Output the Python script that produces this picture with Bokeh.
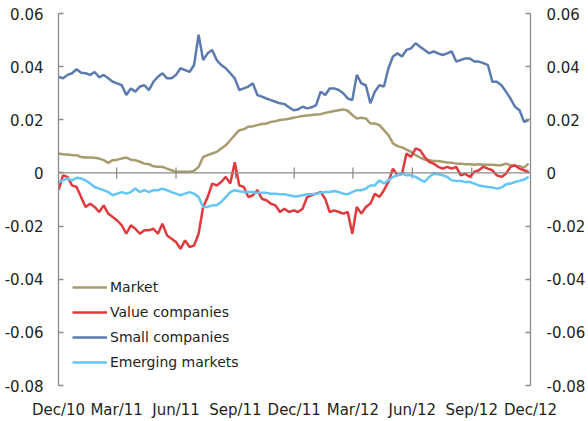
import numpy as np
import pandas as pd
from bokeh.plotting import figure
from bokeh.models import (LinearAxis, FixedTicker, Span, Legend, LegendItem,
                          DatetimeTickFormatter, Range1d)
from bokeh.embed import file_html
from bokeh.resources import INLINE

start_date = "2010-12-01"
n_weeks = 105

market = [0.0073, 0.0070, 0.0069, 0.0067, 0.0067, 0.0060, 0.0058, 0.0058, 0.0057, 0.0054,
          0.0048, 0.0038, 0.0048, 0.0050, 0.0054, 0.0058, 0.0050, 0.0048, 0.0042, 0.0035,
          0.0033, 0.0025, 0.0023, 0.0023, 0.0016, 0.0010, 0.0004, 0.0004, 0.0004, 0.0004,
          0.0008, 0.0023, 0.0060, 0.0067, 0.0073, 0.0079, 0.0092, 0.0104, 0.0123, 0.0142,
          0.0161, 0.0164, 0.0174, 0.0176, 0.0180, 0.0184, 0.0186, 0.0192, 0.0195, 0.0199,
          0.0201, 0.0204, 0.0208, 0.0211, 0.0214, 0.0216, 0.0218, 0.0220, 0.0221, 0.0226,
          0.0229, 0.0233, 0.0236, 0.0239, 0.0234, 0.0218, 0.0205, 0.0208, 0.0205, 0.0186,
          0.0186, 0.0180, 0.0161, 0.0142, 0.0111, 0.0101, 0.0096, 0.0088, 0.0079, 0.0067,
          0.0058, 0.0050, 0.0048, 0.0045, 0.0045, 0.0042, 0.0039, 0.0038, 0.0035, 0.0035,
          0.0033, 0.0033, 0.0031, 0.0033, 0.0031, 0.0031, 0.0031, 0.0029, 0.0029, 0.0035,
          0.0029, 0.0026, 0.0025, 0.0020, 0.0035]

value_cos = [-0.0065, -0.0009, -0.0015, -0.0047, -0.0053, -0.0091, -0.0128, -0.0116, -0.0128, -0.0147,
             -0.0122, -0.0153, -0.0166, -0.0179, -0.0197, -0.0229, -0.0197, -0.0210, -0.0229, -0.0216,
             -0.0216, -0.0210, -0.0229, -0.0191, -0.0235, -0.0248, -0.0260, -0.0286, -0.0254, -0.0279,
             -0.0273, -0.0229, -0.0128, -0.0091, -0.0040, -0.0047, -0.0034, -0.0015, -0.0040, 0.0040,
             -0.0047, -0.0053, -0.0091, -0.0084, -0.0065, -0.0097, -0.0103, -0.0116, -0.0122, -0.0147,
             -0.0135, -0.0147, -0.0141, -0.0147, -0.0135, -0.0091, -0.0084, -0.0078, -0.0072, -0.0097,
             -0.0147, -0.0141, -0.0147, -0.0153, -0.0147, -0.0229, -0.0128, -0.0153, -0.0128, -0.0116,
             -0.0078, -0.0091, -0.0065, -0.0034, 0.0016, -0.0009, -0.0003, 0.0073, 0.0060, 0.0092,
             0.0086, 0.0060, 0.0042, 0.0035, 0.0023, 0.0016, 0.0023, 0.0016, 0.0023, -0.0009,
             -0.0003, -0.0015, 0.0004, 0.0010, 0.0023, 0.0016, 0.0010, -0.0009, -0.0015, -0.0003,
             0.0023, 0.0029, 0.0016, 0.0010, 0.0004]

small_cos = [0.0362, 0.0356, 0.0369, 0.0375, 0.0390, 0.0377, 0.0375, 0.0369, 0.0380, 0.0360,
             0.0369, 0.0356, 0.0343, 0.0337, 0.0330, 0.0293, 0.0318, 0.0306, 0.0325, 0.0330,
             0.0312, 0.0343, 0.0362, 0.0375, 0.0356, 0.0356, 0.0369, 0.0394, 0.0387, 0.0380,
             0.0406, 0.0520, 0.0425, 0.0450, 0.0463, 0.0425, 0.0406, 0.0394, 0.0375, 0.0356,
             0.0312, 0.0318, 0.0325, 0.0337, 0.0293, 0.0287, 0.0280, 0.0274, 0.0268, 0.0262,
             0.0259, 0.0247, 0.0236, 0.0239, 0.0249, 0.0243, 0.0247, 0.0255, 0.0306, 0.0293,
             0.0318, 0.0318, 0.0312, 0.0300, 0.0280, 0.0274, 0.0369, 0.0337, 0.0330, 0.0262,
             0.0306, 0.0330, 0.0325, 0.0394, 0.0438, 0.0450, 0.0438, 0.0463, 0.0469, 0.0488,
             0.0475, 0.0463, 0.0450, 0.0457, 0.0450, 0.0444, 0.0450, 0.0457, 0.0419, 0.0425,
             0.0431, 0.0431, 0.0419, 0.0419, 0.0413, 0.0406, 0.0343, 0.0343, 0.0330, 0.0306,
             0.0280, 0.0249, 0.0236, 0.0192, 0.0199]

emerging = [-0.0034, -0.0028, -0.0021, -0.0028, -0.0018, -0.0021, -0.0028, -0.0040, -0.0053, -0.0059,
            -0.0065, -0.0072, -0.0084, -0.0078, -0.0072, -0.0078, -0.0072, -0.0059, -0.0072, -0.0065,
            -0.0072, -0.0065, -0.0065, -0.0059, -0.0065, -0.0072, -0.0078, -0.0084, -0.0078, -0.0072,
            -0.0078, -0.0091, -0.0128, -0.0128, -0.0122, -0.0122, -0.0109, -0.0091, -0.0072, -0.0065,
            -0.0069, -0.0072, -0.0072, -0.0072, -0.0075, -0.0075, -0.0075, -0.0078, -0.0078, -0.0080,
            -0.0080, -0.0084, -0.0088, -0.0088, -0.0084, -0.0080, -0.0080, -0.0078, -0.0075, -0.0072,
            -0.0072, -0.0068, -0.0072, -0.0078, -0.0080, -0.0072, -0.0065, -0.0065, -0.0059, -0.0047,
            -0.0047, -0.0028, -0.0040, -0.0028, -0.0015, -0.0009, -0.0003, -0.0009, -0.0009, -0.0015,
            -0.0025, -0.0034, -0.0015, -0.0003, -0.0005, -0.0009, -0.0015, -0.0028, -0.0030, -0.0030,
            -0.0034, -0.0034, -0.0040, -0.0047, -0.0050, -0.0053, -0.0055, -0.0059, -0.0055, -0.0043,
            -0.0040, -0.0034, -0.0030, -0.0025, -0.0015]

series_names = ["Market", "Value companies", "Small companies", "Emerging markets"]
series_colors = ["#A89B6E", "#E03A3E", "#5B7BAE", "#64C6F4"]

y_ticks = [-0.08, -0.06, -0.04, -0.02, 0.0, 0.02, 0.04, 0.06]
y_tick_labels = ["-0.08", "-0.06", "-0.04", "-0.02", "0", "0.02", "0.04", "0.06"]
x_tick_dates = ["2010-12-01", "2011-03-01", "2011-06-01", "2011-09-01", "2011-12-01",
                "2012-03-01", "2012-06-01", "2012-09-01", "2012-12-01"]

# ---------------- figure ----------------
dates = pd.date_range(start_date, periods=n_weeks, freq="7D")
x_ticks_dt = pd.to_datetime(x_tick_dates)
x_ticks_ms = [float(t.value // 10**6) for t in x_ticks_dt]

FONT = "DejaVu Sans"
TXT = "#231F20"
AX = "#8C8C8C"

p = figure(frame_width=472, frame_height=372, output_backend="svg", toolbar_location=None,
           x_axis_type="datetime",
           x_range=Range1d(x_ticks_dt[0], x_ticks_dt[-1]),
           y_range=Range1d(y_ticks[0], y_ticks[-1]),
           min_border_left=58, min_border_right=58, min_border_top=13, min_border_bottom=28)
p.outline_line_color = None
p.grid.visible = False
p.background_fill_color = "white"
p.border_fill_color = "white"

# x axis: labels only at the bottom
xa = p.xaxis[0]
xa.ticker = FixedTicker(ticks=x_ticks_ms)
xa.formatter = DatetimeTickFormatter(days="%b/%y", months="%b/%y", years="%b/%y",
                                     hours="%b/%y", minutes="%b/%y", seconds="%b/%y",
                                     milliseconds="%b/%y", microseconds="%b/%y", hourmin="%b/%y",
                                     minsec="%b/%y")
xa.axis_line_color = None
xa.major_tick_line_color = None
xa.minor_tick_line_color = None
xa.major_label_standoff = 9
xa.major_label_text_font = FONT
xa.major_label_text_font_size = "15px"
xa.major_label_text_color = TXT

def style_y(ax, standoff):
    ax.ticker = FixedTicker(ticks=y_ticks)
    ax.major_label_overrides = {t: lab for t, lab in zip(y_ticks, y_tick_labels)}
    ax.axis_line_color = AX
    ax.axis_line_width = 1.3
    ax.major_tick_line_color = AX
    ax.major_tick_line_width = 1.3
    ax.major_tick_in = 5
    ax.major_tick_out = 0
    ax.minor_tick_line_color = None
    ax.major_label_standoff = standoff
    ax.major_label_text_font = FONT
    ax.major_label_text_font_size = "15px"
    ax.major_label_text_color = TXT

style_y(p.yaxis[0], 15)
ra = LinearAxis()
style_y(ra, 16)
p.add_layout(ra, "right")

# zero line with quarter ticks
p.add_layout(Span(location=0, dimension="width", line_color=AX, line_width=1.3))
p.scatter(x=x_ticks_dt[1:-1], y=[0.0] * (len(x_ticks_dt) - 2), marker="dash", angle=np.pi / 2,
          size=11, line_color=AX, line_width=1.3)

items = []
for name, col, vals in zip(series_names, series_colors, [market, value_cos, small_cos, emerging]):
    r = p.line(dates, vals, line_color=col, line_width=2.5)
    items.append(LegendItem(label=name, renderers=[r]))

legend = Legend(items=items, location=(14, 13), orientation="vertical",
                border_line_color=None, background_fill_alpha=0, padding=0, margin=0,
                spacing=5, glyph_width=35, glyph_height=20, label_height=20, label_standoff=3,
                label_text_font=FONT, label_text_font_size="14px", label_text_color=TXT)
p.add_layout(legend, "center")

open("out.html", "w").write(file_html(p, INLINE))
